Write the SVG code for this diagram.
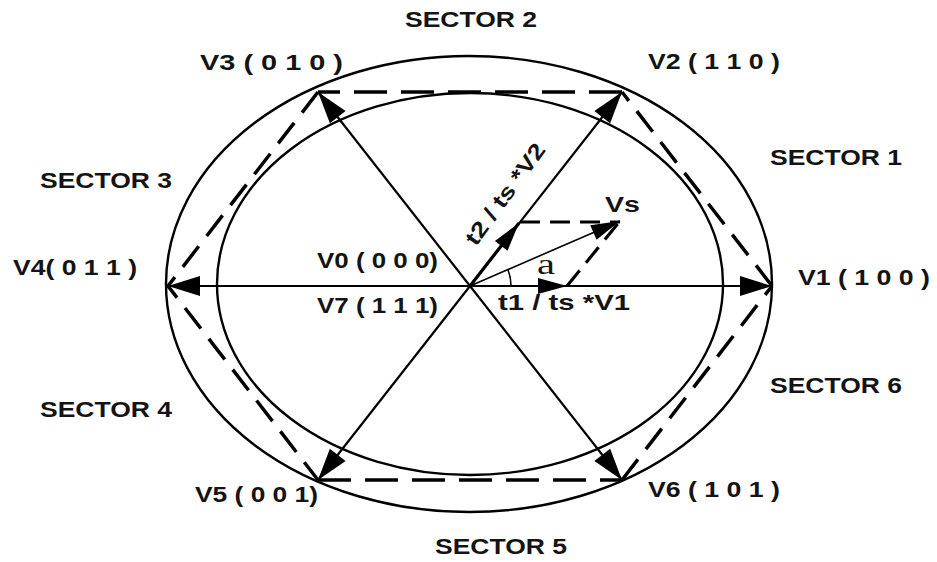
<svg xmlns="http://www.w3.org/2000/svg" width="937" height="562" viewBox="0 0 937 562">
<style>
.lbl{font-family:"Liberation Sans",Arial,sans-serif;font-weight:bold;font-size:22px;fill:#141414}
.ring{fill:none;stroke:#000;stroke-width:2.4}
.vec{stroke:#000;stroke-width:2.2;fill:none}
.hex{stroke:#000;stroke-width:3.5;fill:none;stroke-dasharray:26 13}
.hexh{stroke:#000;stroke-width:3.5;fill:none;stroke-dasharray:33 14}
.dsh{stroke:#000;stroke-width:3.2;fill:none;stroke-dasharray:20 10}
</style>
<defs>
<marker id="big" markerUnits="userSpaceOnUse" markerWidth="36" markerHeight="24" viewBox="-34 -12 36 24" refX="0" refY="0" orient="auto">
<path d="M0,0 L-32,-10 L-32,10 Z" fill="#000"/>
</marker>
<marker id="small" markerUnits="userSpaceOnUse" markerWidth="34" markerHeight="20" viewBox="-32 -10 34 20" refX="0" refY="0" orient="auto">
<path d="M0,0 L-29,-8 L-29,8 Z" fill="#000"/>
</marker>
</defs>
<rect width="937" height="562" fill="#fff"/>
<g id="rings">
<ellipse class="ring" cx="469" cy="284" rx="303" ry="228"/>
<ellipse class="ring" cx="470" cy="284" rx="253" ry="191"/>
</g>
<g id="connectors">
<path class="hexh" d="M622,92 L318,92"/>
<path class="hexh" d="M318,480 L622,480"/>
<path class="hex" d="M772,286 L622,92"/>
<path class="hex" d="M318,92 L168,286 L318,480"/>
<path class="hex" d="M622,480 L772,286"/>
<line class="vec" x1="470" y1="286" x2="772" y2="286" marker-end="url(#big)"/>
<line class="vec" x1="470" y1="286" x2="168" y2="286" marker-end="url(#big)"/>
<line class="vec" x1="470" y1="286" x2="622" y2="92" marker-end="url(#big)"/>
<line class="vec" x1="470" y1="286" x2="318" y2="92" marker-end="url(#big)"/>
<line class="vec" x1="470" y1="286" x2="318" y2="480" marker-end="url(#big)"/>
<line class="vec" x1="470" y1="286" x2="622" y2="480" marker-end="url(#big)"/>
<line x1="470" y1="286" x2="519" y2="223" stroke="#000" stroke-width="3.2" marker-end="url(#small)"/>
<line x1="470" y1="286" x2="620" y2="221" stroke="#000" stroke-width="1.6" marker-end="url(#small)"/>
<line x1="470" y1="286" x2="567" y2="286" stroke="#000" stroke-width="2.2" marker-end="url(#small)"/>
<path class="dsh" d="M520,222 L620,222"/>
<path class="dsh" d="M567,286 L620,221" stroke-dasharray="18 10"/>
<path d="M511,286 A41,41 0 0 0 508,270" fill="none" stroke="#000" stroke-width="1.6"/>
</g>
<g id="sector2"><text class="lbl" x="405" y="27" textLength="132" lengthAdjust="spacingAndGlyphs">SECTOR 2</text></g>
<g id="v3"><text class="lbl" x="200" y="70" textLength="143" lengthAdjust="spacingAndGlyphs">V3 ( 0 1 0 )</text></g>
<g id="v2"><text class="lbl" x="648" y="69" textLength="132" lengthAdjust="spacingAndGlyphs">V2 ( 1 1 0 )</text></g>
<g id="sector1"><text class="lbl" x="770" y="165" textLength="132" lengthAdjust="spacingAndGlyphs">SECTOR 1</text></g>
<g id="sector3"><text class="lbl" x="40" y="188" textLength="132" lengthAdjust="spacingAndGlyphs">SECTOR 3</text></g>
<g id="v4"><text class="lbl" x="13" y="275" textLength="124" lengthAdjust="spacingAndGlyphs">V4( 0 1 1 )</text></g>
<g id="v1"><text class="lbl" x="798" y="285" textLength="132" lengthAdjust="spacingAndGlyphs">V1 ( 1 0 0 )</text></g>
<g id="v0"><text class="lbl" x="317" y="268" textLength="121" lengthAdjust="spacingAndGlyphs">V0 ( 0 0 0)</text></g>
<g id="v7"><text class="lbl" x="317" y="313" textLength="121" lengthAdjust="spacingAndGlyphs">V7 ( 1 1 1)</text></g>
<g id="t1"><text class="lbl" x="498" y="310" textLength="132" lengthAdjust="spacingAndGlyphs">t1 / ts *V1</text></g>
<g id="vs"><text class="lbl" x="605" y="212" textLength="35" lengthAdjust="spacingAndGlyphs">Vs</text></g>
<g id="t2"><text class="lbl" x="0" y="0" textLength="120" lengthAdjust="spacingAndGlyphs" transform="translate(476,247) rotate(-54)">t2 / ts *V2</text></g>
<g id="angle"><text x="537" y="274" font-family="'Liberation Serif','Times New Roman',serif" font-size="30" fill="#141414" textLength="18" lengthAdjust="spacingAndGlyphs">a</text></g>
<g id="sector6"><text class="lbl" x="770" y="393" textLength="132" lengthAdjust="spacingAndGlyphs">SECTOR 6</text></g>
<g id="sector4"><text class="lbl" x="40" y="417" textLength="132" lengthAdjust="spacingAndGlyphs">SECTOR 4</text></g>
<g id="v5"><text class="lbl" x="195" y="502" textLength="123" lengthAdjust="spacingAndGlyphs">V5 ( 0 0 1)</text></g>
<g id="v6"><text class="lbl" x="648" y="497" textLength="132" lengthAdjust="spacingAndGlyphs">V6 ( 1 0 1 )</text></g>
<g id="sector5"><text class="lbl" x="435" y="554" textLength="132" lengthAdjust="spacingAndGlyphs">SECTOR 5</text></g>
</svg>
